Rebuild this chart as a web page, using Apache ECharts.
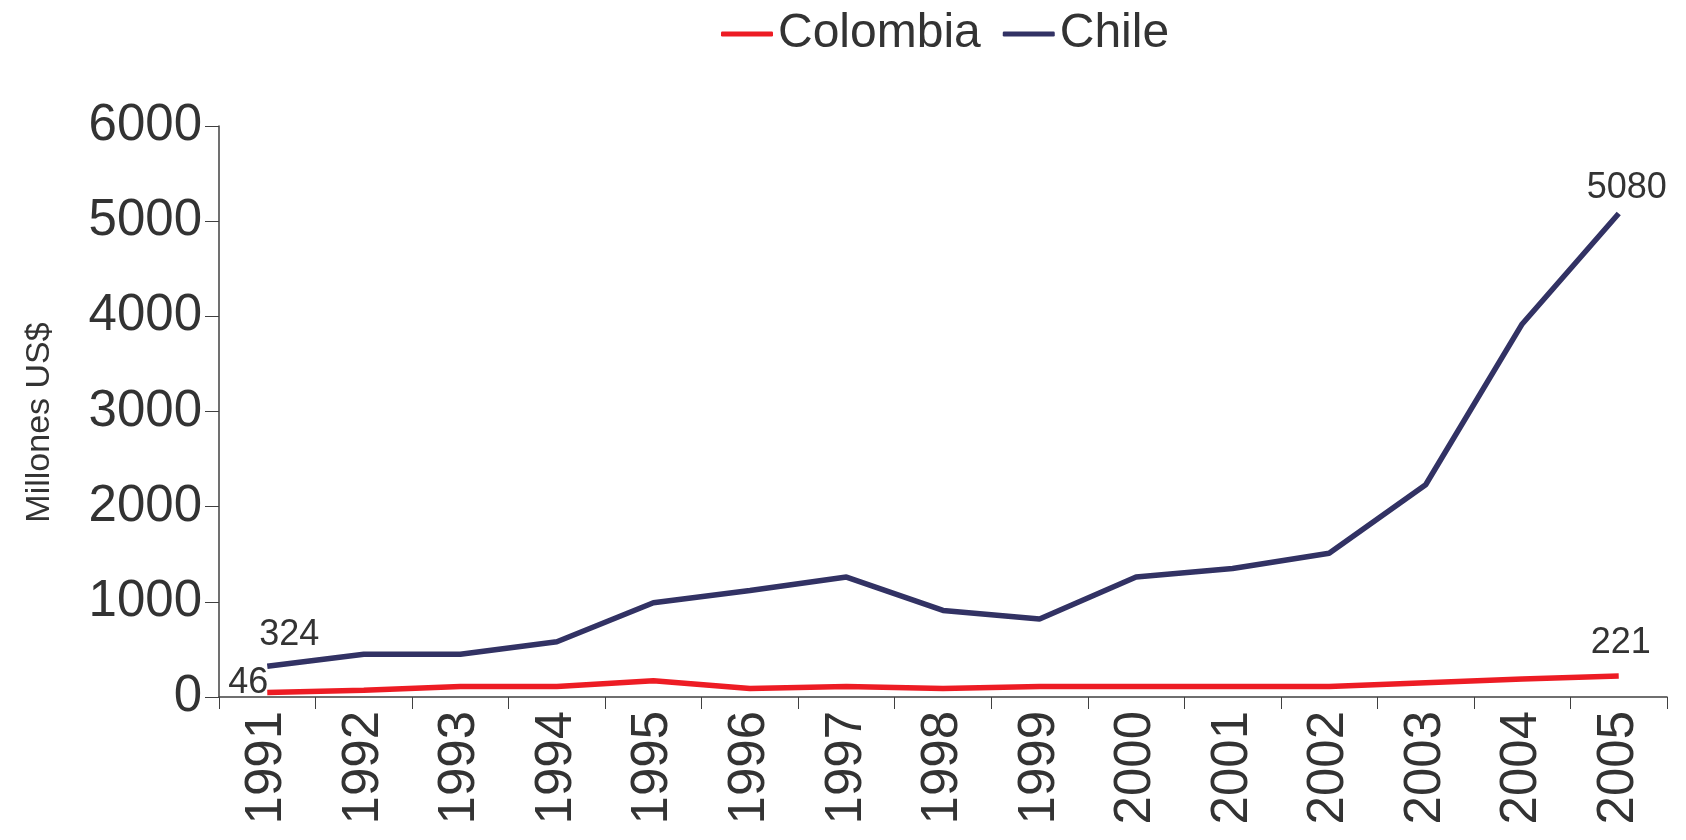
<!DOCTYPE html>
<html>
<head>
<meta charset="utf-8">
<script src="https://cdn.jsdelivr.net/npm/echarts@6/dist/echarts.min.js"></script>
<style>
  html, body { margin: 0; padding: 0; background: #fff; }
  #chart { width: 1686px; height: 840px; }
</style>
</head>
<body>
<div id="chart"></div>
<script>
const years = ['1991', '1992', '1993', '1994', '1995', '1996', '1997', '1998', '1999', '2000', '2001', '2002', '2003', '2004', '2005'];
const colombia = [46, 70, 110, 110, 170, 90, 110, 90, 110, 110, 110, 110, 150, 190, 221];
const chile = [324, 450, 450, 580, 990, 1120, 1260, 910, 820, 1260, 1350, 1510, 2230, 3920, 5080];

const chart = echarts.init(document.getElementById('chart'));
const textColor = '#333333';
const font = 'Liberation Sans';

// only the first and last points carry labels
function withEndLabels(values, firstLabel, lastLabel) {
    return values.map((v, i) => {
        if (i === 0) return { value: v, label: Object.assign({ show: true }, firstLabel) };
        if (i === values.length - 1) return { value: v, label: Object.assign({ show: true }, lastLabel) };
        return v;
    });
}

const labelBase = {
    color: textColor,
    fontFamily: font,
    fontSize: 36
};

const option = {
    color: ['#ED1C24', '#323264'],
    legend: {
        top: 5,
        left: 716,
        itemWidth: 52,
        itemHeight: 5,
        itemGap: 22,
        icon: 'roundRect',
        textStyle: { color: textColor, fontFamily: font, fontSize: 48 },
        data: ['Colombia', 'Chile']
    },
    grid: {
        left: 219,
        right: 19,
        top: 126,
        bottom: 143,
        containLabel: false
    },
    xAxis: {
        type: 'category',
        data: years,
        boundaryGap: true,
        axisLine: { lineStyle: { color: '#404040', width: 1.5 } },
        axisTick: { show: true, length: 12, alignWithLabel: false, lineStyle: { color: '#404040' } },
        axisLabel: {
            rotate: 90,
            interval: 0,
            margin: 14,
            color: textColor,
            fontFamily: font,
            fontSize: 51
        }
    },
    yAxis: {
        type: 'value',
        min: 0,
        max: 6000,
        interval: 1000,
        name: 'Millones US$',
        nameLocation: 'middle',
        nameGap: 162,
        nameTextStyle: { color: textColor, fontFamily: font, fontSize: 34, padding: [0, 22, 0, 0] },
        splitLine: { show: false },
        axisLine: { show: true, lineStyle: { color: '#404040', width: 1.5 } },
        axisTick: { show: true, length: 14, lineStyle: { color: '#404040' } },
        axisLabel: {
            margin: 17,
            color: textColor,
            fontFamily: font,
            fontSize: 51,
            formatter: v => String(v)
        }
    },
    series: [
        {
            name: 'Colombia',
            type: 'line',
            symbol: 'circle',
            symbolSize: 0,
            showSymbol: true,
            lineStyle: { width: 5.5 },
            data: withEndLabels(colombia,
                Object.assign({ position: 'left', offset: [6, -10] }, labelBase),
                Object.assign({ position: 'top', offset: [2, -10] }, labelBase))
        },
        {
            name: 'Chile',
            type: 'line',
            symbol: 'circle',
            symbolSize: 0,
            showSymbol: true,
            lineStyle: { width: 5.5 },
            data: withEndLabels(chile,
                Object.assign({ position: 'top', offset: [22, -8] }, labelBase),
                Object.assign({ position: 'top', offset: [8, -2] }, labelBase))
        }
    ]
};

chart.setOption(option);

window.addEventListener('resize', _ => {
    chart.resize();
});
</script>
</body>
</html>
